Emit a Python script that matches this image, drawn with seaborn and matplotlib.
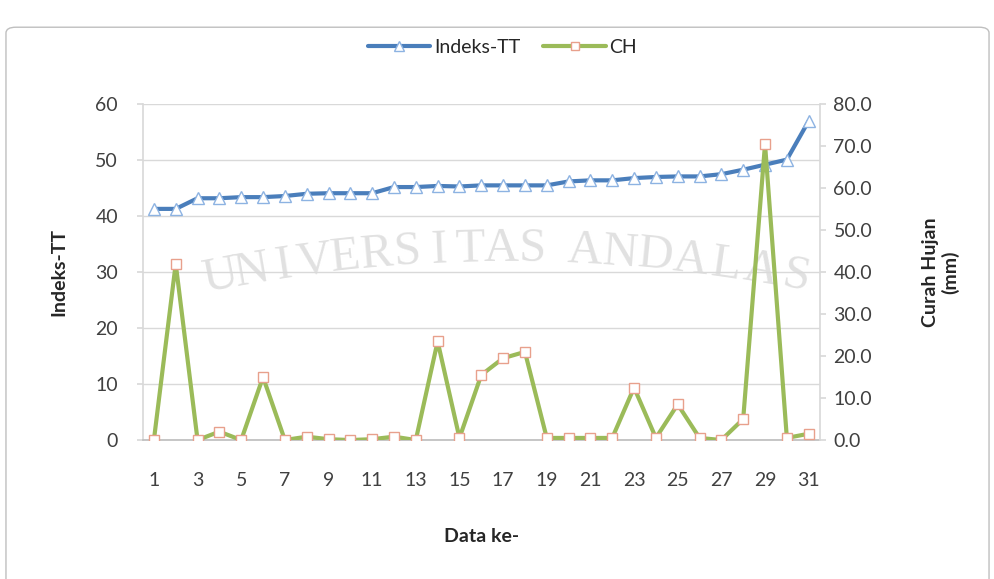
import numpy as np
import pandas as pd
import matplotlib
matplotlib.use("Agg")
import matplotlib.pyplot as plt
from matplotlib.lines import Line2D
from matplotlib.patches import FancyBboxPatch
import seaborn as sns

# Data
data_ke = list(range(1, 32))
indeks_tt = [41.3, 41.3, 43.2, 43.2, 43.4, 43.4, 43.6, 44.0, 44.1, 44.1,
             44.1, 45.2, 45.2, 45.4, 45.3, 45.5, 45.5, 45.5, 45.5, 46.2,
             46.4, 46.4, 46.8, 47.0, 47.1, 47.1, 47.5, 48.3, 49.2, 50.1,
             57.0]
curah_hujan = [0.0, 42.0, 0.0, 2.0, 0.0, 15.0, 0.0, 0.8, 0.2, 0.0,
               0.2, 0.8, 0.0, 23.5, 0.5, 15.5, 19.5, 21.0, 0.5, 0.5,
               0.5, 0.5, 12.5, 0.5, 8.5, 0.5, 0.0, 5.0, 70.5, 0.5,
               1.5]
left_ticks = [0, 10, 20, 30, 40, 50, 60]
right_ticks = [0, 10, 20, 30, 40, 50, 60, 70, 80]
x_tick_labels = [str(v) for v in range(1, 32, 2)]

df = pd.DataFrame({"Data ke-": data_ke, "Indeks-TT": indeks_tt, "CH": curah_hujan})

sns.set_theme(style="white")
plt.rcParams["font.family"] = ["Lato", "DejaVu Sans"]

BLUE = "#4A7EBB"
GREEN = "#9BBB59"
GRID = "#D9D9D9"
TEXT = "#404040"

fig = plt.figure(figsize=(9.95, 5.79), dpi=100)
ax = fig.add_axes([0.1437, 0.240, 0.680, 0.580])
ax2 = ax.twinx()
ax.patch.set_alpha(0)
ax2.patch.set_alpha(0)

# Chart frame
frame = FancyBboxPatch((0.006, -0.05), 0.988, 1.003, boxstyle="round,pad=0,rounding_size=0.01",
                       transform=fig.transFigure, facecolor="white", edgecolor="#BFBFBF",
                       linewidth=1.0, zorder=-10)
fig.patches.append(frame)

# Watermark text along a shallow arc
words = [("UNIVERSITAS", 0.222, 0.535), ("ANDALAS", 0.588, 0.800)]
cx, R, apex = 0.51, 2.6, 0.57
for word, x0, x1 in words:
    xs = np.linspace(x0, x1, len(word))
    for ch, xf in zip(word, xs):
        dx = (xf - cx) * 995 / 579
        yf = apex + np.sqrt(R ** 2 - dx ** 2) - R
        ang = -np.degrees(np.arcsin(dx / R))
        fig.text(xf, yf, ch, rotation=ang, ha="center", va="center", fontsize=35,
                 family="Liberation Serif", color="#C8C8C8", alpha=0.55, zorder=-5)

sns.lineplot(data=df, x="Data ke-", y="Indeks-TT", ax=ax, color=BLUE, linewidth=3.0,
             marker="^", markersize=8, markerfacecolor="white",
             markeredgecolor="#8DB3E2", markeredgewidth=1.0, zorder=3)
sns.lineplot(data=df, x="Data ke-", y="CH", ax=ax2, color=GREEN, linewidth=3.0,
             marker="s", markersize=6.5, markerfacecolor="white",
             markeredgecolor="#E8A08C", markeredgewidth=1.0, zorder=3)

ax.set_xlim(0.5, 31.5)
ax.set_ylim(0, 60)
ax2.set_ylim(0, 80)
ax.set_yticks(left_ticks)
ax.set_yticklabels([str(v) for v in left_ticks])
ax2.set_yticks(right_ticks)
ax2.set_yticklabels([f"{v:.1f}" for v in right_ticks])
ax.set_xticks(list(range(1, 32, 2)))
ax.set_xticklabels(x_tick_labels)
ax.set_xticks(np.arange(0.5, 32, 1.0), minor=True)

ax.grid(axis="y", color=GRID, linewidth=1.0)
ax.grid(axis="x", visible=False)
ax2.grid(False)

ax.spines["top"].set_visible(False)
ax2.spines["top"].set_visible(False)
ax.spines["right"].set_visible(False)
ax2.spines["left"].set_visible(False)
ax2.spines["bottom"].set_visible(False)
ax.spines["left"].set_color(GRID)
ax2.spines["right"].set_color(GRID)
ax.spines["bottom"].set_color("#BFBFBF")

ax.tick_params(axis="x", which="major", length=0, pad=23, labelsize=14, labelcolor=TEXT)
ax.tick_params(axis="x", which="minor", length=4, color="#BFBFBF", direction="out")
ax.tick_params(axis="y", length=4, color=GRID, direction="out", labelsize=14,
               labelcolor=TEXT, pad=14)
ax2.tick_params(axis="y", length=4, color=GRID, direction="out", labelsize=14,
                labelcolor=TEXT, pad=6)

ax.set_xlabel("Data ke-", fontsize=14, fontweight="bold", color="#262626", labelpad=28)
ax.set_ylabel("Indeks-TT", fontsize=14, fontweight="bold", color="#262626", labelpad=20)
ax2.set_ylabel("Curah Hujan\n(mm)", fontsize=14, fontweight="bold", color="#262626",
               labelpad=36, linespacing=1.1)

handles = [
    Line2D([], [], color=BLUE, linewidth=3.0, marker="^", markersize=7,
           markerfacecolor="white", markeredgecolor="#8DB3E2"),
    Line2D([], [], color=GREEN, linewidth=3.0, marker="s", markersize=6,
           markerfacecolor="white", markeredgecolor="#E8A08C"),
]
fig.legend(handles, ["Indeks-TT", "CH"], loc="center", bbox_to_anchor=(0.505, 0.918),
           ncol=2, frameon=False, fontsize=14, handlelength=3.2, handletextpad=0.2,
           columnspacing=1.2, labelcolor="#262626")

fig.savefig("out.png", dpi=100)
